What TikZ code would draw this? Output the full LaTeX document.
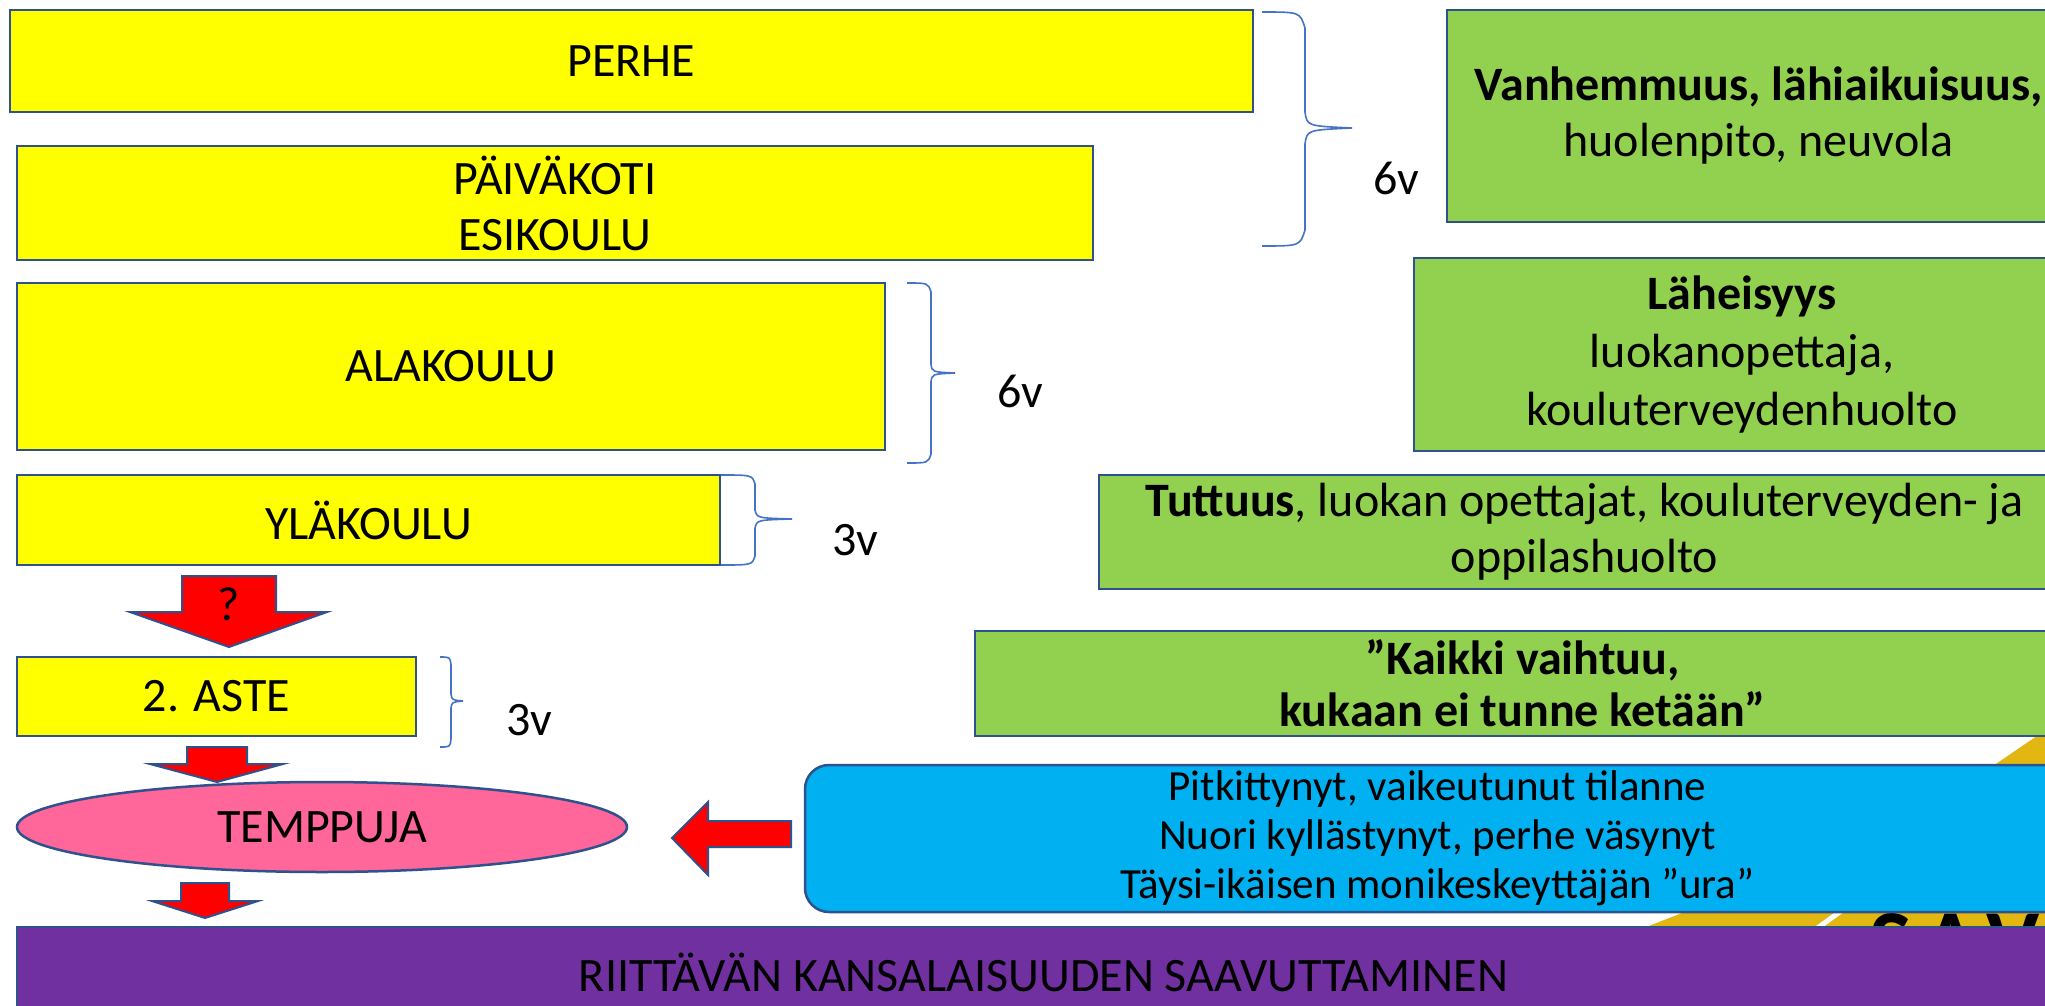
\documentclass[tikz,border=0pt]{standalone}
\usepackage{fontspec}
\setmainfont{Carlito}
\usetikzlibrary{shapes.geometric}
\definecolor{colYellow}{HTML}{FFFF00}
\definecolor{colGreen}{HTML}{92D050}
\definecolor{colBlue}{HTML}{00B0F0}
\definecolor{colPurple}{HTML}{7030A0}
\definecolor{colPink}{HTML}{FF6699}
\definecolor{colRed}{HTML}{FF0000}
\definecolor{colBorder}{HTML}{2F528F}
\definecolor{colBrace}{HTML}{4472C4}
\definecolor{colGold}{HTML}{E2B711}
\tikzset{
  box/.style={draw=colBorder, line width=1.25pt, inner sep=0pt, align=center,
    font=\fontsize{24}{28}\selectfont},
  ybox/.style={box, fill=colYellow},
  gbox/.style={box, fill=colGreen},
  bbox/.style={box, fill=colBlue, rounded corners=12pt, font=\fontsize{21.5}{24.5}\selectfont},
  pbox/.style={box, fill=colPurple},
  ebox/.style={box, ellipse, fill=colPink},
  brace/.style={draw=colBrace, line width=0.8pt},
  blockarrow/.style={fill=colRed, draw=colBorder, line width=1pt, line join=miter},
  lbl/.style={inner sep=0pt, font=\fontsize{24}{28}\selectfont},
  bigletter/.style={inner sep=0pt, anchor=base, font=\fontsize{45}{50}\selectfont\bfseries}
}
\begin{document}
\begin{tikzpicture}[x=0.5pt,y=-0.5pt]
\clip (0,0) rectangle (2045,1006);
\fill[white] (0,0) rectangle (2045,1006);
% background picture (mostly hidden)
\fill[colGold] (1600,945) -- (1700,906) -- (1990,768) -- (2050,727) -- (2050,945) -- cycle;
\node[bigletter] (bgS) at (1891,972) {S};
\node[bigletter] (bgA) at (1951,972) {A};
\node[bigletter] (bgV) at (2013,972) {V};
\draw[white, line width=2.5pt] (1812,932) -- (1848,906);

% left column
\node[ybox, minimum width=621.5pt, minimum height=51pt] (perhe) at (631.5,61) {PERHE};
\node[ybox, minimum width=538pt, minimum height=57pt] (paiva) at (555,203) {PÄIVÄKOTI\\ESIKOULU};
\node[ybox, minimum width=434pt, minimum height=83.5pt] (ala) at (451,366.5) {ALAKOULU};
\node[ybox, minimum width=351.5pt, minimum height=45pt] (yla) at (368.5,520) {YLÄKOULU};
\node[ybox, minimum width=199.5pt, minimum height=39.5pt] (aste) at (216.5,696.5) {2. ASTE};
\node[ebox, minimum width=305pt, minimum height=45pt] (temp) at (322,827) {TEMPPUJA};
\node[pbox, minimum width=1026.5pt, minimum height=45pt] (riit) at (1043.5,972) {RIITTÄVÄN KANSALAISUUDEN SAAVUTTAMINEN};

% right column
\node[gbox, minimum width=311.5pt, minimum height=106pt] (g1) at (1758.5,116)
  {\textbf{Vanhemmuus, lähiaikuisuus,}\\huolenpito, neuvola};
\node[gbox, minimum width=328pt, minimum height=96.5pt, font=\fontsize{24}{29}\selectfont] (g2) at (1742,354.5)
  {\textbf{Läheisyys}\\luokanopettaja,\\kouluterveydenhuolto};
\node[gbox, minimum width=485.5pt, minimum height=57pt] (g3) at (1584.5,532)
  {\textbf{Tuttuus}, luokan opettajat, kouluterveyden- ja\\oppilashuolto};
\node[gbox, minimum width=547.5pt, minimum height=52.5pt, font=\fontsize{24}{26}\selectfont] (g4) at (1522.5,683.5)
  {\textbf{”Kaikki vaihtuu,}\\\textbf{kukaan ei tunne ketään”}};
\node[bbox, minimum width=632.5pt, minimum height=73.5pt] (blue) at (1437.5,838.5)
  {Pitkittynyt, vaikeutunut tilanne\\Nuori kyllästynyt, perhe väsynyt\\Täysi-ikäisen monikeskeyttäjän ”ura”};

% braces
\draw[brace] (1262,12) .. controls (1300,12) .. (1305,28) -- (1305,112)
  .. controls (1307,126) .. (1352,128) .. controls (1307,130) .. (1305,144)
  -- (1305,230) .. controls (1300,246) .. (1262,246);
\draw[brace] (907,283) .. controls (928,283) .. (931,292) -- (931,364)
  .. controls (932,372) .. (955,373) .. controls (932,374) .. (931,382)
  -- (931,454) .. controls (928,463) .. (907,463);
\draw[brace] (721,475) .. controls (752,475) .. (755,484) -- (755,510)
  .. controls (757,518) .. (792,519) .. controls (757,520) .. (755,528)
  -- (755,556) .. controls (752,565) .. (721,565);
\draw[brace] (440,657) .. controls (450,657) .. (451,665) -- (451,694)
  .. controls (452,700) .. (463,701) .. controls (452,702) .. (451,708)
  -- (451,739) .. controls (450,747) .. (440,747);

\node[lbl] (l6a) at (1396,178) {6v};
\node[lbl] (l6b) at (1020,391) {6v};
\node[lbl] (l3a) at (855,540) {3v};
\node[lbl] (l3b) at (529,720) {3v};

% block arrows
\draw[blockarrow] (182,576) -- (276,576) -- (276,612) -- (327,612) -- (229,647)
  -- (130,612) -- (182,612) -- cycle;
\node[lbl] (q) at (229,604) {?};
\draw[blockarrow] (187,747) -- (247,747) -- (247,764) -- (283,764) -- (217,782)
  -- (150,764) -- (187,764) -- cycle;
\draw[blockarrow] (181,883) -- (229,883) -- (229,901) -- (258,901) -- (205,918)
  -- (152,901) -- (181,901) -- cycle;
\draw[blockarrow] (791,821) -- (791,847) -- (708,847) -- (708,875) -- (672,838)
  -- (708,802) -- (708,821) -- cycle;
\end{tikzpicture}
\end{document}
